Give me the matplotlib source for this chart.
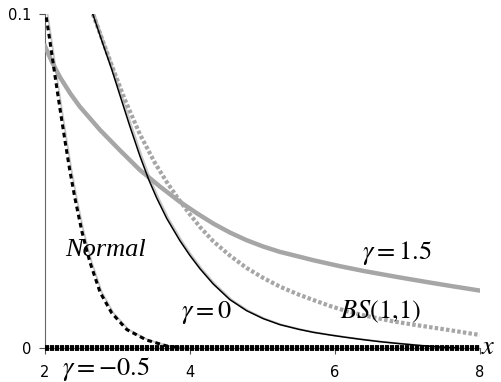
import matplotlib
matplotlib.use("Agg")
import matplotlib.pyplot as plt

plt.rcParams["lines.scale_dashes"] = False
plt.rcParams["mathtext.fontset"] = "stix"

# gamma = -0.5 (black dashed)
x_m05 = [2.00, 2.05, 2.10, 2.15, 2.21, 2.28, 2.34, 2.41, 2.51, 2.62, 2.76, 2.92, 3.13,
         3.40, 3.68, 3.90]
y_m05 = [0.1015, 0.0945, 0.0872, 0.0798, 0.0712, 0.0615, 0.0535, 0.0452, 0.0348, 0.0257,
         0.0167, 0.0105, 0.0055, 0.0024, 0.0006, 0.0]

# gamma = 0 (black solid)
x_g0 = [2.66, 2.80, 2.92, 3.03, 3.17, 3.31, 3.43, 3.54, 3.68, 3.86, 4.00, 4.14, 4.32,
        4.55, 4.78, 5.01, 5.24, 5.50, 5.70, 5.93, 6.15, 6.39, 6.62, 6.85, 7.05, 7.20,
        7.45, 7.70]
y_g0 = [0.1000, 0.0910, 0.0835, 0.0760, 0.0665, 0.0575, 0.0505, 0.0450, 0.0388, 0.0322,
        0.0277, 0.0237, 0.0192, 0.0145, 0.0112, 0.0088, 0.0070, 0.0056, 0.0047, 0.0039,
        0.0032, 0.0025, 0.0019, 0.0014, 0.0010, 0.0007, 0.0003, 0.0]

# gamma = 1.5 (grey thick)
x_g15 = [2.00, 2.10, 2.21, 2.35, 2.48, 2.62, 2.76, 3.03, 3.31, 3.59, 3.86, 4.10, 4.32,
         4.55, 4.78, 5.01, 5.24, 5.50, 5.70, 6.07, 6.39, 6.85, 7.31, 7.65, 8.00]
y_g15 = [0.0904, 0.0855, 0.0810, 0.0762, 0.0723, 0.0688, 0.0653, 0.0593, 0.0533, 0.0483,
         0.0438, 0.0403, 0.0373, 0.0346, 0.0323, 0.0304, 0.0288, 0.0274, 0.0263, 0.0245,
         0.0231, 0.0213, 0.0196, 0.0184, 0.0172]

# BS(1,1) (grey dashed)
x_bs = [2.66, 2.80, 2.95, 3.10, 3.31, 3.52, 3.68, 3.82, 4.00, 4.14, 4.32, 4.55, 4.78,
        5.01, 5.24, 5.50, 5.70, 5.93, 6.20, 6.50, 6.80, 7.08, 7.54, 8.00]
y_bs = [0.1000, 0.0918, 0.0830, 0.0745, 0.0640, 0.0553, 0.0497, 0.0453, 0.0400, 0.0362,
        0.0320, 0.0277, 0.0240, 0.0210, 0.0184, 0.0160, 0.0144, 0.0126, 0.0108, 0.0093,
        0.0080, 0.0070, 0.0055, 0.0039]

x_axis = [2, 8]
zero = [0, 0]

fig = plt.figure(figsize=(5.01, 3.82), dpi=100)
ax = fig.add_axes([0.0898, 0.089, 0.868, 0.874])

# light grey shadows beside the black curves
ax.plot([v + 0.025 for v in x_g0], y_g0, color="#c8c8c8", lw=1.3, zorder=2)
ax.plot([v + 0.025 for v in x_m05], y_m05, color="#c8c8c8", lw=1.3, zorder=2)

ax.plot(x_g15, y_g15, color="#a6a6a6", lw=3.2, zorder=3)
ax.plot(x_bs, y_bs, color="#a6a6a6", lw=3.0, ls=(0, (2.5, 1.6)), zorder=3)
ax.plot(x_g0, y_g0, color="black", lw=1.1, zorder=4)
ax.plot(x_m05, y_m05, color="black", lw=2.2, ls=(0, (3.4, 2.6)), zorder=4)

# thick baseline along y = 0
ax.plot(x_axis, zero, color="black", lw=4.2, ls=(0, (3.0, 0.6)), zorder=5,
        solid_capstyle="butt", dash_capstyle="butt", clip_on=False)

ax.set_xlim(2, 8)
ax.set_ylim(0, 0.1)
ax.set_xticks([2, 4, 6, 8])
ax.set_yticks([0, 0.1])
ax.set_yticklabels(["0", "0.1"])
ax.tick_params(labelsize=10.5, length=4, width=0.8, color="#555555")
ax.tick_params(axis="x", pad=8)
ax.tick_params(axis="y", pad=6)
for s in ["top", "right"]:
    ax.spines[s].set_visible(False)
ax.spines["left"].set_color("#666666")
ax.spines["bottom"].set_color("#666666")

fs = 19
ax.text(2.84, 0.0293, "Normal", family="Liberation Serif", style="italic", fontsize=fs,
        ha="center", va="center")
ax.text(4.23, 0.0105, r"$\gamma = 0$", fontsize=fs, ha="center", va="center")
ax.text(6.86, 0.0285, r"$\gamma = 1.5$", fontsize=fs, ha="center", va="center")
ax.text(6.63, 0.0108, r"$BS$(1,1)", family="STIXGeneral", fontsize=fs,
        ha="center", va="center")
ax.text(2.84, -0.0062, r"$\gamma = -0.5$", fontsize=fs, ha="center", va="center",
        clip_on=False)
ax.text(8.11, 0.0003, r"$x$", fontsize=fs, ha="center", va="center", clip_on=False)

fig.savefig("out.png", dpi=100)
